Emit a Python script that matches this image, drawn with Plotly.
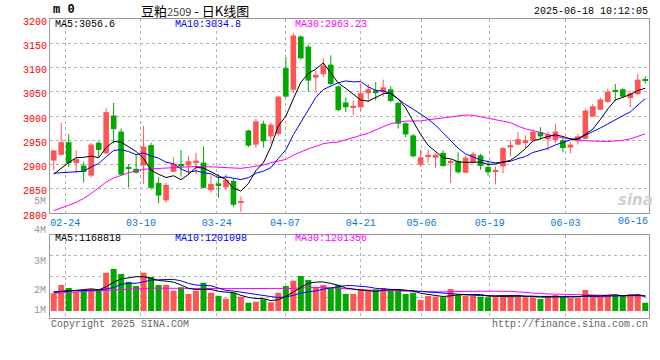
import plotly.graph_objects as go

# ---------------- data ----------------
dates = ["02-20", "02-21", "02-24", "02-25", "02-26", "02-27", "02-28",
         "03-03", "03-04", "03-05", "03-06", "03-07", "03-10", "03-11", "03-12", "03-13", "03-14",
         "03-17", "03-18", "03-19", "03-20", "03-21", "03-24", "03-25", "03-26", "03-27", "03-28",
         "03-31", "04-01", "04-02", "04-03", "04-07", "04-08", "04-09", "04-10", "04-11",
         "04-14", "04-15", "04-16", "04-17", "04-18", "04-21", "04-22", "04-23", "04-24", "04-25",
         "04-28", "04-29", "04-30", "05-06", "05-07", "05-08", "05-09",
         "05-12", "05-13", "05-14", "05-15", "05-16", "05-19", "05-20", "05-21", "05-22", "05-23",
         "05-26", "05-27", "05-28", "05-29", "05-30", "06-03", "06-04", "06-05", "06-06",
         "06-09", "06-10", "06-11", "06-12", "06-13", "06-16", "06-17", "06-18"]

opens = [2908, 2920, 2946, 2903, 2898, 2877, 2945, 2923, 3001, 2968,
         2894, 2891, 2898, 2940, 2862, 2826, 2885, 2901, 2898, 2905,
         2904, 2847, 2861, 2853, 2866, 2822, 2970, 2941, 2984, 2958,
         2963, 3099, 3054, 3164, 3143, 3079, 3086, 3106, 3061, 3028,
         3018, 3018, 3047, 3053, 3049, 3055, 3027, 2985, 2960, 2900,
         2917, 2914, 2924, 2904, 2907, 2883, 2905, 2919, 2895, 2886,
         2896, 2935, 2941, 2944, 2950, 2967, 2952, 2950, 2950, 2935,
         2948, 2953, 2999, 3013, 3029, 3051, 3055, 3037, 3045, 3075]
highs = [2930, 2986, 2963, 2929, 2906, 2944, 2948, 3016, 3027, 2974,
         2901, 2920, 2980, 2945, 2874, 2862, 2914, 2930, 2917, 2924,
         2937, 2878, 2880, 2880, 2870, 2834, 2972, 2994, 2990, 2987,
         3042, 3121, 3171, 3166, 3147, 3094, 3119, 3125, 3063, 3039,
         3032, 3068, 3066, 3070, 3075, 3061, 3029, 2987, 2963, 2930,
         2930, 2924, 2929, 2910, 2925, 2919, 2926, 2922, 2908, 2896,
         2936, 2950, 2967, 2960, 2973, 2977, 2967, 2984, 2955, 2946,
         2963, 3015, 3025, 3038, 3056, 3066, 3057, 3052, 3087, 3082]
lows = [2889, 2918, 2895, 2883, 2863, 2873, 2915, 2921, 2943, 2878,
        2853, 2882, 2860, 2848, 2820, 2821, 2884, 2875, 2878, 2880,
        2851, 2842, 2832, 2847, 2812, 2802, 2936, 2935, 2935, 2943,
        2960, 3038, 3047, 3116, 3051, 3049, 3080, 3063, 3010, 3008,
        3002, 3010, 3028, 3032, 3040, 3028, 2974, 2956, 2914, 2895,
        2903, 2893, 2895, 2862, 2881, 2882, 2902, 2889, 2877, 2859,
        2882, 2917, 2939, 2934, 2946, 2950, 2929, 2944, 2925, 2923,
        2941, 2952, 2998, 3012, 3027, 3031, 3037, 3018, 3044, 3067]
closes = [2929, 2946, 2903, 2911, 2885, 2941, 2930, 3008, 2973, 2879,
          2891, 2883, 2937, 2852, 2836, 2858, 2901, 2896, 2907, 2908,
          2852, 2860, 2857, 2868, 2817, 2824, 2939, 2989, 2948, 2982,
          3040, 3040, 3166, 3119, 3073, 3085, 3104, 3066, 3012, 3018,
          3021, 3047, 3055, 3047, 3059, 3031, 2984, 2962, 2917, 2915,
          2920, 2920, 2897, 2907, 2884, 2914, 2922, 2897, 2884, 2888,
          2934, 2940, 2952, 2950, 2967, 2958, 2962, 2968, 2934, 2941,
          2958, 3011, 3020, 3034, 3050, 3050, 3040, 3047, 3075, 3074]
volumes = [1405000, 2063000, 1825000, 1508000, 1667000, 1730000, 1667000, 3032000, 3333000, 2937000,
           2317000, 1984000, 3040000, 2698000, 2063000, 2063000, 1611000, 1881000, 1349000, 1611000,
           2246000, 1452000, 1190000, 976000, 1452000, 1135000, 659000, 738000, 929000, 690000,
           1452000, 1984000, 2405000, 2778000, 2460000, 1825000, 2063000, 1810000, 2063000, 1349000,
           1349000, 1746000, 1611000, 1722000, 1825000, 1611000, 1722000, 1349000, 1452000, 873000,
           1190000, 1135000, 1087000, 1746000, 1294000, 1190000, 1190000, 1135000, 1087000, 1087000,
           1270000, 1270000, 1135000, 1087000, 1087000, 952000, 1190000, 1270000, 1111000, 1032000,
           1032000, 1667000, 1135000, 1135000, 1270000, 1270000, 1190000, 1349000, 1349000, 659000]

# moving-average values before enough in-window history is visible
ma5_lead = [2880, 2892, 2904, 2914]
ma10_lead = [2882, 2883, 2884, 2885, 2886, 2895, 2902, 2916, 2929]
ma30_lead = [2805, 2810, 2816, 2822, 2830, 2840, 2852, 2864, 2872, 2878, 2883, 2887, 2890, 2891,
             2892, 2893, 2894, 2895, 2896, 2896, 2896, 2895, 2894, 2893, 2892, 2892, 2894, 2896, 2899]
vma5_lead = [1480000, 1520000, 1580000, 1620000]
vma10_lead = [1532000, 1587000, 1611000, 1611000, 1620000, 1643000, 1667000, 1746000, 1865000]
vma30_lead = [1400000, 1450000, 1500000, 1530000, 1550000, 1580000, 1610000, 1650000, 1690000,
              1730000, 1770000, 1800000, 1800000, 1810000, 1810000, 1800000, 1800000, 1790000,
              1800000, 1800000, 1790000, 1790000, 1780000, 1780000, 1780000, 1770000, 1770000,
              1770000, 1770000]

price_ticks = [2800, 2850, 2900, 2950, 3000, 3050, 3100, 3150, 3200]
date_ticks = ["02-24", "03-10", "03-24", "04-07", "04-21", "05-06", "05-19", "06-03"]
last_date_label = "06-16"
vol_labels = ["5M", "4M", "3M", "2M", "1M"]

title_name = "豆粕"
title_code = "2509"
title_rest = " - 日K线图"
stamp = "2025-06-18 10:12:05"
ma_texts = ["MA5:3056.6", "MA10:3034.8", "MA30:2963.23"]
vma_texts = ["MA5:1168818", "MA10:1201098", "MA30:1201356"]

# ---------------- helpers ----------------
N = len(dates)
idx = list(range(N))
RED, GREEN = "#ff5555", "#00a800"
MA_COLORS = ["#000000", "#0000ff", "#ff00ff"]
MONO = "Liberation Mono"


def moving_avg(vals, n, lead):
    out = list(lead)
    for i in range(len(lead), len(vals)):
        out.append(sum(vals[i - n + 1:i + 1]) / n)
    return out


ma5 = moving_avg(closes, 5, ma5_lead)
ma10 = moving_avg(closes, 10, ma10_lead)
ma30 = moving_avg(closes, 30, ma30_lead)
vma5 = moving_avg(volumes, 5, vma5_lead)
vma10 = moving_avg(volumes, 10, vma10_lead)
vma30 = moving_avg(volumes, 30, vma30_lead)

up = [c >= o for o, c in zip(opens, closes)]

# pixel helpers for placing free text (plot area: x 50..649, y 19..318)
L, R, T, B = 50, 11, 19, 42
PW, PH = 660 - L - R, 360 - T - B


def px(x):
    return (x - L) / PW


def py(y):
    return (360 - B - y) / PH


main_dom = [py(213), 1.0]
vol_dom = [0.0, py(234.5)]

# grid positions follow the chart's own slot spacing
grid_pos = [dates.index(d) * N / (N - 1) - 0.5 for d in date_ticks]

fig = go.Figure()

# wicks
for flag, col in [(True, RED), (False, GREEN)]:
    xs, ys = [], []
    for i in idx:
        if up[i] == flag:
            xs += [i, i, None]
            ys += [lows[i], highs[i], None]
    fig.add_trace(go.Scatter(x=xs, y=ys, mode="lines", line=dict(color=col, width=1),
                             hoverinfo="skip", xaxis="x", yaxis="y"))

# bodies
for flag, col in [(True, RED), (False, GREEN)]:
    sel = [i for i in idx if up[i] == flag]
    fig.add_trace(go.Bar(
        x=sel,
        y=[max(abs(closes[i] - opens[i]), 1.8) for i in sel],
        base=[min(opens[i], closes[i]) for i in sel],
        width=0.75, marker=dict(color=col, line=dict(width=0)),
        xaxis="x", yaxis="y"))

for series, col in zip([ma30, ma10, ma5], [MA_COLORS[2], MA_COLORS[1], MA_COLORS[0]]):
    fig.add_trace(go.Scatter(x=idx, y=series, mode="lines", line=dict(color=col, width=1),
                             xaxis="x", yaxis="y"))

# volume
for flag, col in [(True, RED), (False, GREEN)]:
    sel = [i for i in idx if up[i] == flag]
    fig.add_trace(go.Bar(x=sel, y=[volumes[i] for i in sel], width=0.8,
                         marker=dict(color=col, line=dict(width=0)),
                         xaxis="x2", yaxis="y2"))

for series, col in zip([vma30, vma10, vma5], [MA_COLORS[2], MA_COLORS[1], MA_COLORS[0]]):
    fig.add_trace(go.Scatter(x=idx, y=series, mode="lines", line=dict(color=col, width=1),
                             xaxis="x2", yaxis="y2"))

GRID = "#b4b4b4"
BOX = "#9a9a9a"
common_x = dict(range=[-0.5, N - 0.5], tickvals=grid_pos, showgrid=True, gridcolor=GRID,
                griddash="dot", gridwidth=1, showline=True, linecolor=BOX, linewidth=1,
                mirror=True, ticks="", zeroline=False, fixedrange=True)

# volume scale: 0 at y=311 px, 12.6 px per million
vol_k = 12.6 / 1e6
vol_range = [-(318 - 311) / vol_k, (311 - 234.5) / vol_k]
vol_grid = [(311 - y) / vol_k for y in (297, 276, 255.7)]

fig.update_layout(
    width=660, height=360,
    margin=dict(l=L, r=R, t=T, b=B),
    paper_bgcolor="white", plot_bgcolor="white",
    showlegend=False, barmode="overlay",
    font=dict(family=MONO, size=10, color="#000000"),
    xaxis=dict(**common_x, anchor="y", ticktext=date_ticks,
               tickfont=dict(family=MONO, size=10, color="#0a78d2")),
    xaxis2=dict(**common_x, anchor="y2", matches="x", showticklabels=False),
    yaxis=dict(domain=main_dom, range=[price_ticks[0], price_ticks[-1]], tickvals=price_ticks,
               showgrid=True, gridcolor=GRID, griddash="dot", showline=True, linecolor=BOX,
               mirror=True, ticks="", zeroline=False, ticklabelshift=2,
               tickfont=dict(family=MONO, size=10, color="#ff0000"), fixedrange=True),
    yaxis2=dict(domain=vol_dom, range=vol_range, tickvals=vol_grid, showticklabels=False,
                showgrid=True, gridcolor=GRID, griddash="dot", showline=True, linecolor=BOX,
                mirror=True, ticks="", zeroline=False, fixedrange=True),
)

ann = []


def text(x, y, s, color="#000000", size=10, anchor="left", family=MONO, **kw):
    ann.append(dict(x=px(x), y=py(y), xref="paper", yref="paper", text=s, showarrow=False,
                    xanchor=anchor, yanchor="middle", font=dict(family=family, size=size, color=color),
                    borderpad=0, **kw))


# header
text(52, 10.5, "<b>m 0</b>", size=12)
text(140, 10, f"{title_name}<span style='font-size:11px;color:#444'>{title_code}</span>{title_rest}",
     size=13, family="Noto Sans CJK SC")
text(649, 11, stamp, size=10, anchor="right")

# MA legends
for xx, s, c in zip([54, 174, 294], ma_texts, MA_COLORS):
    text(xx, 24.5, s, color=c)
for xx, s, c in zip([54, 174, 294], vma_texts, MA_COLORS):
    text(xx, 238.5, s, color=c)

# last date label (clamped at right edge)
text(649, 221.5, last_date_label, color="#0a78d2", anchor="right")

# volume axis labels
for yy, s in zip([201, 230.7, 261, 290.7, 310.7], vol_labels):
    text(46.5, yy, s, color="#999999", anchor="right")

# footer
text(50, 324, "Copyright 2025 SINA.COM", color="#666666")
text(649, 324, "http://finance.sina.com.cn", color="#666666", anchor="right")

# watermark
text(635, 200, "<b><i>sina</i></b>", color="#cfcfcf", size=15, anchor="center", family="DejaVu Sans")

fig.update_layout(annotations=ann)
fig.write_html("out.html", config={"displayModeBar": False},
               post_script="document.body.style.margin='0';")
